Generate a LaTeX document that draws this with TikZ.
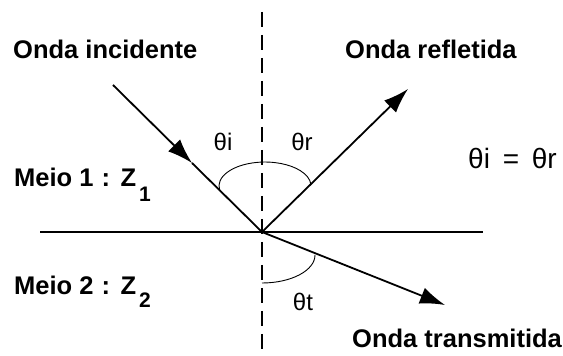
\documentclass[tikz,border=0pt]{standalone}
\usepackage{fontspec}
\setmainfont{Liberation Sans}
\usetikzlibrary{arrows.meta}

\begin{document}
\begin{tikzpicture}[x=1pt,y=1pt,
    ray/.style={line width=1.8pt},
    tip/.style={-{Latex[length=25pt,width=17pt]}},
    angarc/.style={line width=0.9pt},
    title/.style={anchor=base west,inner sep=0pt,font=\fontsize{25.5}{30}\selectfont\bfseries},
    subidx/.style={anchor=base west,inner sep=0pt,font=\fontsize{21}{24}\selectfont\bfseries},
    anglbl/.style={inner sep=0pt,font=\fontsize{24}{28}\selectfont}]
        \useasboundingbox (0,0) rectangle (563,356);
        \coordinate (O) at (262,124);
        \coordinate (A) at (113,271);
        \coordinate (M) at (192,193);
        \coordinate (R) at (408,267);
        \coordinate (T) at (445,51);
        \coordinate (L) at (40,124);
        \coordinate (E) at (483,124);
        \coordinate (N) at (262,344);
        \coordinate (S) at (262,0);
        \draw[line width=1.3pt] (L) -- (E);
        \draw[line width=1.6pt,dash pattern=on 15pt off 8pt] (N) -- (S);
        \draw[ray,tip] (A) -- (M);
        \draw[ray] (M) -- (O);
        \draw[ray,tip] (O) -- (R);
        \draw[ray,tip] (O) -- (T);
        \draw[angarc] (219.7,165.8) arc[start angle=190,end angle=5,x radius=46,y radius=24];
        \draw[angarc] (262,73) arc[start angle=270,end angle=360,x radius=53,y radius=28];
        \node[title] (inc) at (13,297) {Onda incidente};
        \node[title] (ref) at (345,297.7) {Onda refletida};
        \node[title] (tra) at (352,8) {Onda transmitida};
        \node[title] (m1) at (14,169) {Meio 1\hspace{1pt} :\hspace{1pt} Z};
        \node[subidx] (s1) at (139,154) {1};
        \node[title] (m2) at (14,61) {Meio 2\hspace{1pt} :\hspace{1pt} Z};
        \node[subidx] (s2) at (139,48) {2};
        \node[anglbl] (ti) at (223,214) {θi};
        \node[anglbl] (tr) at (302,214) {θr};
        \node[anglbl] (tt) at (303,54) {θt};
        \node[anglbl,anchor=base west,font=\fontsize{28}{32}\selectfont] (eq) at (468,187) {θi\hspace{5pt} =\hspace{5pt} θr};
\end{tikzpicture}
\end{document}
